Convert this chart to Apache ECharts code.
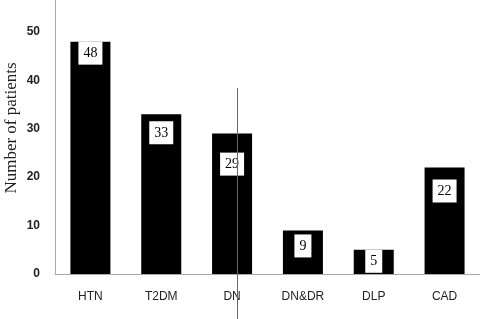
<!DOCTYPE html>
<html><head><meta charset="utf-8">
<script src="https://cdn.jsdelivr.net/npm/echarts@6/dist/echarts.min.js"></script>
<style>html,body{margin:0;padding:0;background:#fff}#c{width:480px;height:319px}</style>
</head><body><div id="c"></div>
<script>
var categories = ['HTN', 'T2DM', 'DN', 'DN&DR', 'DLP', 'CAD'];
var patients = [48, 33, 29, 9, 5, 22];
var yTicks = [0, 10, 20, 30, 40, 50];
var labelDistance = [0, 7, 19, 4, 0, 12];

var chart = echarts.init(document.getElementById('c'));
chart.setOption({
  animation: false,
  grid: { left: 55, right: 0, top: 0, bottom: 45, containLabel: false, outerBoundsMode: 'none' },
  xAxis: {
    type: 'category', data: categories,
    axisLine: { lineStyle: { color: '#aaa', width: 1 } },
    axisTick: { show: false },
    axisLabel: { color: '#222', fontFamily: 'Liberation Sans', fontSize: 12, margin: 17 }
  },
  yAxis: {
    type: 'value', min: 0, max: 56.6, interval: 10,
    axisLine: { show: true, lineStyle: { color: '#aaa', width: 1 } },
    axisTick: { show: false }, splitLine: { show: false },
    axisLabel: { showMaxLabel: false, color: '#222', fontWeight: 'bold', fontFamily: 'Liberation Sans', fontSize: 12, margin: 15,
      formatter: function (v) { return yTicks.indexOf(v) >= 0 ? String(v) : ''; } }
  },
  series: [{
    type: 'bar', barWidth: 40,
    itemStyle: { color: '#000' },
    data: patients.map(function (v, i) {
      return { value: v, label: { distance: labelDistance[i] } };
    }),
    label: {
      show: true, position: 'insideTop', color: '#000', backgroundColor: '#fff',
      fontFamily: 'Liberation Serif', fontSize: 14, padding: [5, 5, 4, 5]
    }
  }],
  graphic: [{
    type: 'text', x: 12, y: 128, rotation: Math.PI / 2,
    style: { text: 'Number of patients', fontFamily: 'Liberation Serif', fontSize: 17, fill: '#222',
      align: 'center', verticalAlign: 'middle' }
  }, {
    type: 'line', shape: { x1: 237.5, y1: 88, x2: 237.5, y2: 319 },
    style: { stroke: '#666', lineWidth: 1 }, z: 100
  }]
});
</script></body></html>
